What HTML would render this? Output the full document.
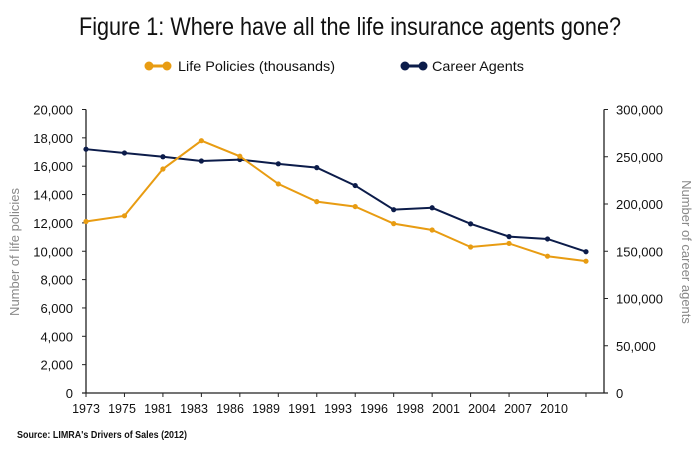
<!DOCTYPE html>
<html><head><meta charset="utf-8"><style>
body{margin:0;background:#fff}
svg{display:block;font-family:"Liberation Sans",sans-serif}
</style></head><body>
<svg id="chart" width="700" height="450">
<text x="350" y="35" text-anchor="middle" font-size="25" textLength="542" lengthAdjust="spacingAndGlyphs" fill="#111">Figure 1: Where have all the life insurance agents gone?</text>
<g>
<line x1="149" y1="66" x2="167" y2="66" stroke="#e89c12" stroke-width="3"/><circle cx="149" cy="66" r="4.5" fill="#e89c12"/><circle cx="167" cy="66" r="4.5" fill="#e89c12"/>
<text x="178" y="71" font-size="14" textLength="157" lengthAdjust="spacingAndGlyphs" fill="#111">Life Policies (thousands)</text></g>
<g>
<line x1="405" y1="66" x2="423" y2="66" stroke="#0c1c4a" stroke-width="3"/><circle cx="405" cy="66" r="4.5" fill="#0c1c4a"/><circle cx="423" cy="66" r="4.5" fill="#0c1c4a"/>
<text x="432" y="71" font-size="14" textLength="92" lengthAdjust="spacingAndGlyphs" fill="#111">Career Agents</text></g>
<text transform="translate(19,252) rotate(-90)" text-anchor="middle" font-size="13" fill="#888">Number of life policies</text>
<text transform="translate(682,252) rotate(90)" text-anchor="middle" font-size="13" fill="#888">Number of career agents</text>
<text x="17" y="438" font-size="10" font-weight="bold" fill="#111" textLength="170" lengthAdjust="spacingAndGlyphs">Source: LIMRA's Drivers of Sales (2012)</text>
<g id="axes"></g><g id="series"></g>
</svg>
<script>
const categories=["1973","1975","1981","1983","1986","1989","1991","1993","1996","1998","2001","2004","2007","2010"];
const lifePolicies=[12100,12500,15800,17800,16700,14750,13500,13150,11950,11500,10300,10550,9650,9300];
const careerAgents=[258000,254000,250000,245500,247000,242500,238500,219500,194000,196000,179000,165500,163000,149500];
const leftTicks=[0,2000,4000,6000,8000,10000,12000,14000,16000,18000,20000];
const rightTicks=[0,50000,100000,150000,200000,250000,300000];
const NS="http://www.w3.org/2000/svg";
const X0=86,XR=604,STEP=38.46,Y0=393,YT=109.5;
const x=i=>X0+i*STEP;
const yL=v=>Y0-(v/20000)*(Y0-YT);
const yR=v=>Y0-(v/300000)*(Y0-YT);
function mk(tag,attrs,parent){const e=document.createElementNS(NS,tag);for(const k in attrs)e.setAttribute(k,attrs[k]);parent.appendChild(e);return e;}
const axes=document.getElementById('axes'),ser=document.getElementById('series');
const fmt=v=>v.toLocaleString('en-US');
let a=mk('line',{x1:X0,y1:YT,x2:X0,y2:Y0,stroke:'#222','stroke-width':1.3},axes);

a=mk('line',{x1:XR,y1:YT,x2:XR,y2:Y0,stroke:'#222','stroke-width':1.3},axes);

a=mk('line',{x1:X0-4,y1:Y0,x2:XR+4,y2:Y0,stroke:'#222','stroke-width':1.3},axes);

leftTicks.forEach(v=>{const y=yL(v);mk('line',{x1:X0-4,y1:y,x2:X0,y2:y,stroke:'#222'},axes);
const t=mk('text',{x:73,y:y+5,'text-anchor':'end','font-size':13,fill:'#111'},axes);t.textContent=fmt(v);
});
rightTicks.forEach(v=>{const y=yR(v);mk('line',{x1:XR,y1:y,x2:XR+4,y2:y,stroke:'#222'},axes);
const t=mk('text',{x:616,y:y+5,'font-size':13,fill:'#111'},axes);t.textContent=fmt(v);
});
categories.forEach((c,i)=>{mk('line',{x1:x(i),y1:Y0,x2:x(i),y2:Y0+4,stroke:'#222'},axes);
const t=mk('text',{x:X0+i*36,y:Y0+20,'text-anchor':'middle','font-size':12.5,fill:'#111'},axes);t.textContent=c;
});
function draw(vals,fy,col,name){
 const p=mk('polyline',{points:vals.map((v,i)=>x(i)+','+fy(v)).join(' '),fill:'none',stroke:col,'stroke-width':2},ser);
 
 vals.forEach((v,i)=>{const c=mk('circle',{cx:x(i),cy:fy(v),r:2.6,fill:col},ser);
 });
}
draw(careerAgents,yR,'#0c1c4a','career-agents');
draw(lifePolicies,yL,'#e89c12','life-policies');
</script>
</body></html>
